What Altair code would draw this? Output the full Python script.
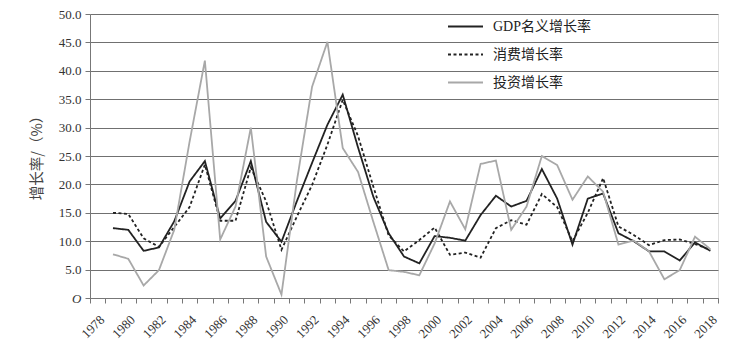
import altair as alt
import pandas as pd

all_years = list(range(1978, 2019))
years = list(range(1979, 2019))
series_names = ["GDP名义增长率", "消费增长率", "投资增长率"]

gdp = [12.3, 12.0, 8.3, 8.9, 13.5, 20.5, 24.1, 14.0, 17.1, 24.1,
       13.4, 9.9, 17.0, 23.8, 30.5, 35.8, 26.5, 17.8, 11.4, 7.3,
       6.1, 10.9, 10.6, 10.1, 14.6, 18.0, 16.1, 17.1, 22.7, 17.5,
       9.4, 17.5, 18.4, 11.4, 10.0, 8.2, 8.2, 6.6, 9.8, 8.3]
consumption = [15.0, 14.8, 10.5, 9.0, 12.5, 16.0, 23.5, 13.6, 13.6, 23.0,
               17.0, 8.5, 14.3, 19.9, 27.0, 34.9, 28.5, 19.6, 11.0, 8.2,
               10.2, 12.4, 7.6, 8.0, 7.1, 12.3, 13.7, 12.9, 18.3, 16.0,
               10.0, 15.0, 21.1, 12.6, 11.1, 9.3, 10.2, 10.3, 9.5, 8.5]
investment = [7.7, 6.9, 2.2, 4.9, 12.0, 27.5, 41.8, 10.3, 16.1, 30.0,
              7.3, 0.6, 20.5, 37.2, 45.1, 26.4, 22.2, 13.4, 4.9, 4.6,
              4.0, 9.6, 17.0, 12.1, 23.6, 24.2, 12.0, 16.1, 25.0, 23.4,
              17.3, 21.4, 18.7, 9.4, 10.1, 8.2, 3.3, 4.9, 10.8, 8.6]

rows = []
for name, vals in zip(series_names, [gdp, consumption, investment]):
    for y, v in zip(years, vals):
        rows.append({"year": y, "value": v, "series": name})
df = pd.DataFrame(rows)

serif = "Liberation Serif"
cjk = "Liberation Serif, Noto Sans CJK SC"

legend = alt.Legend(title=None, orient="none", legendX=357, legendY=-6, padding=0,
                    symbolType="stroke", symbolSize=1225, symbolStrokeWidth=2,
                    labelFont=cjk, labelFontSize=14, labelColor="#222",
                    labelOffset=9, rowPadding=2)

chart = alt.Chart(df).mark_line(strokeWidth=1.8).encode(
    x=alt.X("year:O",
            scale=alt.Scale(domain=all_years, paddingInner=0, paddingOuter=0),
            axis=alt.Axis(title=None, labelAngle=-45,
                          labelExpr="datum.value % 2 == 0 ? datum.label : ''",
                          tickBand="extent", tickSize=5, tickColor="#777",
                          domainColor="#777", labelFont=serif, labelFontSize=13,
                          labelColor="#333", labelPadding=10, grid=False)),
    y=alt.Y("value:Q",
            scale=alt.Scale(domain=[0, 50]),
            axis=alt.Axis(values=list(range(0, 51, 5)),
                          labelExpr="datum.value === 0 ? 'O' : format(datum.value, '.1f')",
                          labelFontStyle={"condition": {"test": "datum.value === 0", "value": "italic"}, "value": "normal"},
                          labelFont=serif, labelFontSize=13, labelColor="#333",
                          tickSize=5, tickColor="#777", domainColor="#777",
                          gridColor="#707070", gridWidth=1, labelPadding=4,
                          title="增长率/（%）", titleFont="Noto Sans CJK SC",
                          titleFontSize=14.5, titleFontWeight="normal", titleColor="#444",
                          titleAngle=-90, titleX=-53, titleY=140,
                          titleAlign="center", titleBaseline="middle")),
    color=alt.Color("series:N",
                    scale=alt.Scale(domain=series_names, range=["#222222", "#222222", "#a8a8a8"]),
                    legend=legend),
    strokeDash=alt.StrokeDash("series:N",
                              scale=alt.Scale(domain=series_names, range=[[1, 0], [3, 2.5], [1, 0]]),
                              legend=legend),
    order=alt.Order("year:O"),
).properties(
    width=628, height=284,
    autosize=alt.AutoSizeParams(type="none"),
    padding={"left": 90, "top": 14, "right": 21, "bottom": 58},
).configure_view(stroke=None).configure(background="white")

chart.save("out.html", embed_options={"renderer": "svg", "actions": False})
